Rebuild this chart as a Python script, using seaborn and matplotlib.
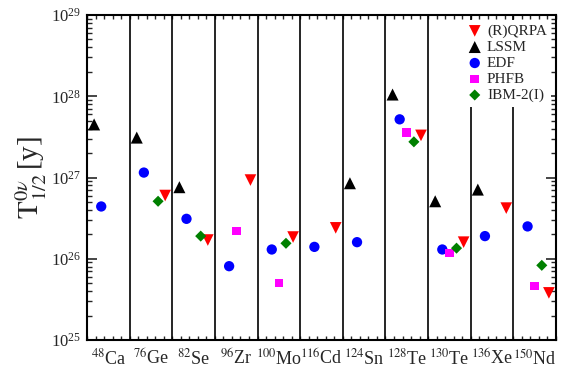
import numpy as np
import pandas as pd
import seaborn as sns
import matplotlib
matplotlib.use("Agg")
import matplotlib.pyplot as plt
from matplotlib.ticker import LogLocator, MultipleLocator, NullFormatter


nuclei = ["48Ca", "76Ge", "82Se", "96Zr", "100Mo", "116Cd",
          "124Sn", "128Te", "130Te", "136Xe", "150Nd"]
tick_labels = [r"$^{48}$Ca", r"$^{76}$Ge", r"$^{82}$Se", r"$^{96}$Zr",
               r"$^{100}$Mo", r"$^{116}$Cd", r"$^{124}$Sn", r"$^{128}$Te",
               r"$^{130}$Te", r"$^{136}$Xe", r"$^{150}$Nd"]

# half-lives in years, None = no calculation
qrpa = [None, 6.0e26, 1.7e26, 9.3e26, 1.85e26, 2.4e26, None, 3.3e27, 1.6e26, 4.2e26, 3.8e25]
lssm = [4.5e27, 3.1e27, 7.6e26, None, None, None, 8.5e26, 1.05e28, 5.1e26, 7.1e26, None]
edf = [4.4e26, 1.15e27, 3.1e26, 8.1e25, 1.3e26, 1.4e26, 1.6e26, 5.2e27, 1.3e26, 1.9e26, 2.5e26]
phfb = [None, None, None, 2.2e26, 5.0e25, None, None, 3.6e27, 1.17e26, None, 4.6e25]
ibm = [None, 5.1e26, 1.9e26, None, 1.55e26, None, None, 2.75e27, 1.35e26, None, 8.3e25]

# name, values, slot inside the nucleus column (1..5 of 6), marker, colour, size
models = [
    ("(R)QRPA", qrpa, 5, "v", "#ff0000", 70),
    ("LSSM", lssm, 1, "^", "#000000", 75),
    ("EDF", edf, 2, "o", "#0000ff", 55),
    ("PHFB", phfb, 3, "s", "#ff00ff", 38),
    ("IBM-2(I)", ibm, 4, "D", "#008000", 32),
]

sns.set_theme(style="ticks")
plt.rcParams["font.family"] = ["Liberation Serif", "DejaVu Serif"]
plt.rcParams["mathtext.fontset"] = "stix"

fig = plt.figure(figsize=(5.77, 3.84), dpi=100)
ax = fig.add_axes([0.1508, 0.1146, 0.8128, 0.8463])

for i in range(1, len(nuclei)):
    ax.axvline(i, color="black", lw=1.2, zorder=1)

for name, vals, slot, mk, col, size in models:
    df = pd.DataFrame({"nucleus": nuclei, "T": vals}).dropna()
    df["x"] = [nuclei.index(n) + slot / 6 for n in df["nucleus"]]
    sns.scatterplot(data=df, x="x", y="T", marker=mk, color=col, s=size,
                    edgecolor="none", linewidth=0, label=name, ax=ax, zorder=3)

ax.set_yscale("log")
ax.set_ylim(1e25, 1e29)
ax.set_xlim(0, len(nuclei))
ax.yaxis.set_major_locator(LogLocator(base=10, numticks=10))
ax.yaxis.set_minor_locator(LogLocator(base=10, subs=np.arange(2, 10), numticks=10))
ax.yaxis.set_minor_formatter(NullFormatter())

ax.set_xticks(np.arange(len(nuclei)) + 0.5)
ax.set_xticklabels(tick_labels, fontsize=13)
ax.xaxis.set_minor_locator(MultipleLocator(0.2))
ax.tick_params(axis="x", which="major", length=0, pad=6)
ax.tick_params(axis="x", which="minor", direction="in", length=3, width=1,
               top=True, bottom=True)
ax.tick_params(axis="y", which="major", direction="in", length=7, width=1.2,
               left=True, right=True, labelsize=12, pad=4)
ax.tick_params(axis="y", which="minor", direction="in", length=3.5, width=1,
               left=True, right=True)

for sp in ax.spines.values():
    sp.set_linewidth(1.5)
    sp.set_color("black")

ax.set_xlabel("")
ax.set_ylabel(r"$\mathrm{T}^{0\nu}_{1/2}\,$[y]", fontsize=21, labelpad=2)

leg = ax.legend(loc="upper right", fontsize=11, frameon=True, facecolor="white",
                edgecolor="white", framealpha=1, borderaxespad=0.3,
                handletextpad=0.2, labelspacing=0.15, borderpad=0.3,
                handlelength=1.2)
leg.set_zorder(5)
leg.get_frame().set_linewidth(0)

fig.savefig("out.png", dpi=100)
